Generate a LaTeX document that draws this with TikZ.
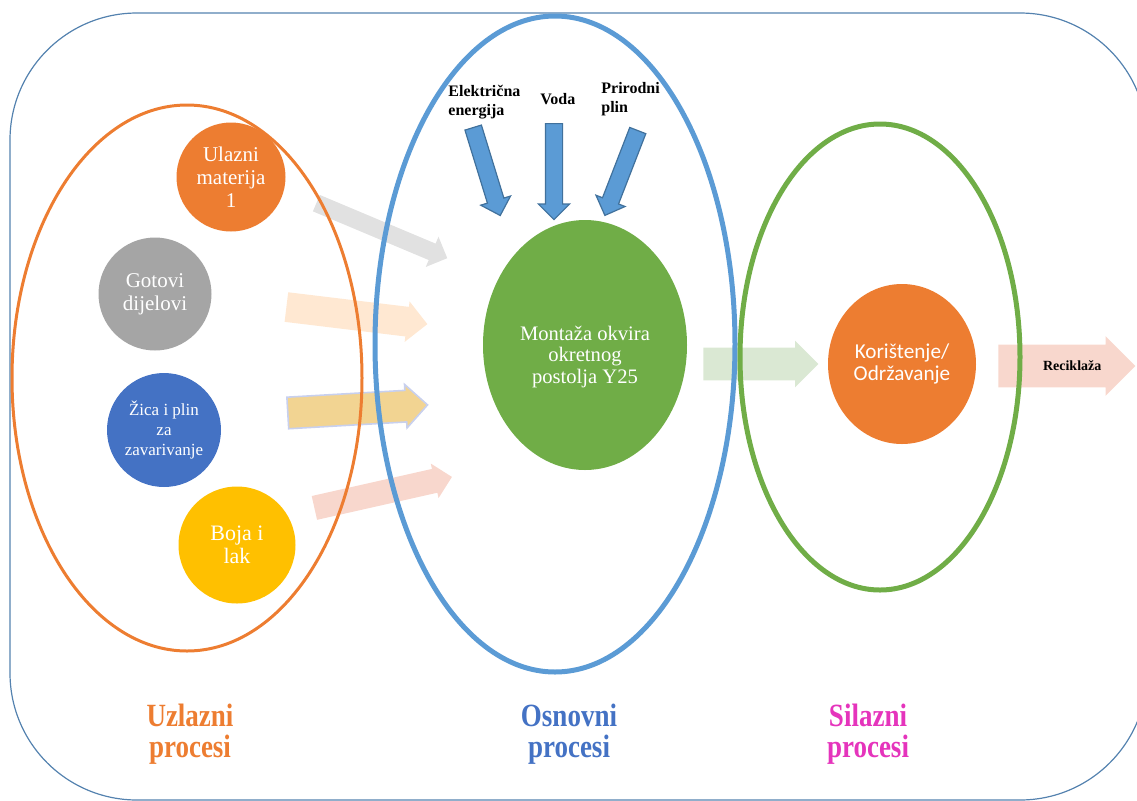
\documentclass[tikz,border=0pt]{standalone}
\usepackage{fontspec}
\usepackage{graphicx}
\setmainfont{Liberation Serif}
\newfontfamily\calibrifont{Carlito}
\usetikzlibrary{shapes.geometric,shapes.arrows}

\definecolor{frameblue}{RGB}{84,130,175}
\definecolor{msorange}{RGB}{237,125,49}
\definecolor{msblue}{RGB}{91,155,213}
\definecolor{msdarkblue}{RGB}{68,114,196}
\definecolor{msgreen}{RGB}{112,173,71}
\definecolor{msgray}{RGB}{165,165,165}
\definecolor{msyellow}{RGB}{255,192,0}
\definecolor{msmagenta}{RGB}{229,52,188}
\definecolor{arrowedge}{RGB}{65,113,156}
\definecolor{palegray}{RGB}{225,225,225}
\definecolor{palepeach}{RGB}{255,232,210}
\definecolor{paleyellow}{RGB}{242,212,146}
\definecolor{lavender}{RGB}{200,208,238}
\definecolor{palepink}{RGB}{248,215,205}
\definecolor{palegreen}{RGB}{218,232,211}

\begin{document}
\begin{tikzpicture}[x=0.5pt,y=-0.5pt,
	ingredient/.style={circle, inner sep=0pt, minimum size=#1, text=white, align=center, font=\fontsize{10.5}{11.5}\selectfont},
	ingredient/.default=56pt,
	blockarrow/.style={single arrow, inner xsep=0pt, anchor=tail, single arrow tip angle=90},
	supply/.style={blockarrow, fill=msblue, draw=arrowedge, line width=0.6pt, minimum height=#1, inner ysep=4pt, single arrow head extend=3.5pt},
	resource/.style={font=\bfseries\fontsize{8}{9.5}\selectfont, align=left, anchor=north west, inner sep=0pt},
	phase/.style={font=\bfseries\fontsize{13.5}{11.6}\selectfont, inner sep=0pt}
	]

	\useasboundingbox (0,0) rectangle (1137,800);
	\draw[frameblue, line width=0.6pt, rounded corners=63.5pt] (10,13) rectangle (1147,800);

	\node[blockarrow, fill=palegray, rotate=-22.8, minimum height=71pt, inner ysep=4.25pt, single arrow head extend=3.75pt] (grayarrow) at (316,203) {};
	\node[blockarrow, fill=palepeach, rotate=-6.9, minimum height=71pt, inner ysep=7.25pt, single arrow head extend=2.75pt] (peacharrow) at (286,307) {};
	\node[blockarrow, fill=paleyellow, draw=lavender, line width=0.8pt, rotate=3.3, minimum height=70pt, inner ysep=7.5pt, single arrow head extend=3pt] (yellowarrow) at (287,413) {};
	\node[blockarrow, fill=palepink, rotate=12.7, minimum height=70.5pt, inner ysep=5.9pt, single arrow head extend=2.75pt] (pinkarrow) at (314,508) {};
	\node[blockarrow, fill=palegreen, minimum height=57.5pt, inner ysep=8pt, single arrow head extend=3.5pt] (greenarrow) at (703,364) {};
	\node[blockarrow, fill=palepink, minimum height=68.5pt, inner ysep=8pt, single arrow head extend=4.25pt, font=\bfseries\fontsize{7}{8}\selectfont] (reciklaza) at (998,366) {\hspace*{16pt}Reciklaža};

	\draw[msorange, line width=1.5pt] (187,378) ellipse [x radius=175, y radius=273];
	\draw[msblue, line width=2.5pt] (555,344) ellipse [x radius=180, y radius=328];
	\draw[msgreen, line width=2.5pt] (880,357) ellipse [x radius=140, y radius=233];

	\node[ingredient=54.5pt, fill=msorange] (ulazni) at (231,177) {Ulazni\\materija\\1};
	\node[ingredient=56.5pt, fill=msgray] (gotovi) at (155,294) {Gotovi\\dijelovi};
	\node[ingredient=57pt, fill=msdarkblue, font=\fontsize{8.5}{10}\selectfont] (zica) at (164,430) {Žica i plin\\za\\zavarivanje};
	\node[ingredient=58.5pt, fill=msyellow, font=\fontsize{11}{11.5}\selectfont] (boja) at (237,545) {Boja i\\lak};

	\node[ellipse, fill=msgreen, minimum width=102pt, minimum height=125pt, inner sep=0pt, text=white, align=center, font=\fontsize{10.3}{10.8}\selectfont] (montaza) at (585,345) {\rule{0pt}{19pt}Montaža okvira\\okretnog\\postolja Y25};
	\node[ellipse, fill=msorange, minimum width=74pt, minimum height=80pt, inner sep=0pt, text=white, align=center, font=\calibrifont\fontsize{10.6}{11}\selectfont] (koristenje) at (902,364) {Korištenje/\\Održavanje};

	\node[resource] (elektricna) at (448,85) {Električna\\energija};
	\node[resource] (voda) at (540,93) {Voda};
	\node[resource] (prirodni) at (601,82) {Prirodni\\plin};

	\node[supply=46pt, rotate=-72.9] (elarrow) at (473,127) {};
	\node[supply=48pt, rotate=-90] (vodaarrow) at (554,123) {};
	\node[supply=45.5pt, rotate=-111.2] (plinarrow) at (638,130) {};

	\node[phase, text=msorange] (uzlazni) at (190,735) {\scalebox{1}[1.2]{\begin{tabular}{@{}c@{}}Uzlazni\\procesi\end{tabular}}};
	\node[phase, text=msdarkblue] (osnovni) at (569,735) {\scalebox{1}[1.2]{\begin{tabular}{@{}c@{}}Osnovni\\procesi\end{tabular}}};
	\node[phase, text=msmagenta] (silazni) at (868,735) {\scalebox{1}[1.2]{\begin{tabular}{@{}c@{}}Silazni\\procesi\end{tabular}}};

\end{tikzpicture}
\end{document}
